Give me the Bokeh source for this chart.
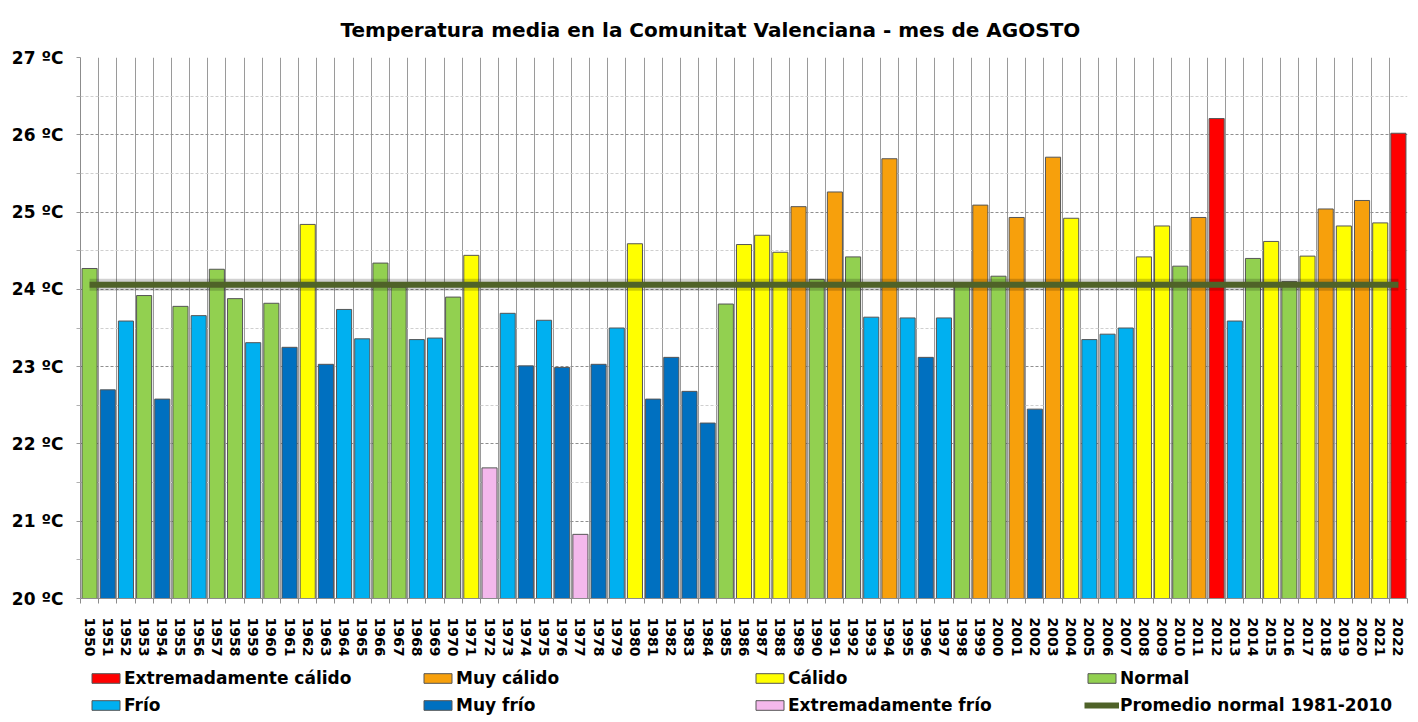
import math
from bokeh.plotting import figure
from bokeh.layouts import column
from bokeh.models import (ColumnDataSource, FixedTicker, PrintfTickFormatter,
                          Legend, LegendItem, Range1d)
from bokeh.embed import file_html
from bokeh.resources import INLINE

# ---------------- data ----------------
title_text = "Temperatura media en la Comunitat Valenciana - mes de AGOSTO"
years = list(range(1950, 2023))
temps = [
    24.27, 22.70, 23.59, 23.92, 22.58, 23.78, 23.66, 24.26, 23.88, 23.31,   # 1950-1959
    23.82, 23.25, 24.84, 23.03, 23.74, 23.36, 24.34, 24.03, 23.35, 23.37,   # 1960-1969
    23.90, 24.44, 21.69, 23.69, 23.01, 23.60, 22.99, 20.83, 23.03, 23.50,   # 1970-1979
    24.59, 22.58, 23.12, 22.68, 22.27, 23.81, 24.58, 24.70, 24.48, 25.07,   # 1980-1989
    24.13, 25.26, 24.42, 23.64, 25.69, 23.63, 23.12, 23.63, 24.05, 25.09,   # 1990-1999
    24.17, 24.93, 22.45, 25.71, 24.92, 23.35, 23.42, 23.50, 24.42, 24.82,   # 2000-2009
    24.30, 24.93, 26.21, 23.59, 24.40, 24.62, 24.10, 24.43, 25.04, 24.82,   # 2010-2019
    25.15, 24.86, 26.02,                                                   # 2020-2022
]
classes = [
    "N", "MF", "F", "N", "MF", "N", "F", "N", "N", "F",
    "N", "MF", "C", "MF", "F", "F", "N", "N", "F", "F",
    "N", "C", "EF", "F", "MF", "F", "MF", "EF", "MF", "F",
    "C", "MF", "MF", "MF", "MF", "N", "C", "C", "C", "MC",
    "N", "MC", "N", "F", "MC", "F", "MF", "F", "N", "MC",
    "N", "MC", "MF", "MC", "C", "F", "F", "F", "C", "C",
    "N", "MC", "EC", "F", "N", "C", "N", "C", "MC", "C",
    "MC", "C", "EC",
]
class_codes = ["EC", "MC", "C", "N", "F", "MF", "EF"]
class_names = ["Extremadamente cálido", "Muy cálido", "Cálido", "Normal",
               "Frío", "Muy frío", "Extremadamente frío"]
class_colors = ["#FF0000", "#F7A00C", "#FFFF00", "#92D050",
                "#00B0F0", "#0070C0", "#F4B8EC"]
normal_label = "Promedio normal 1981-2010"
normal_value = 24.06
y_ticks = [20, 21, 22, 23, 24, 25, 26, 27]

FONT = "DejaVu Sans"
BAR_LINE = "#555555"
MEAN_COLOR = "#4F6228"
NAN = float("nan")

# ---------------- main chart ----------------
p = figure(width=1418, height=660, output_backend="svg", toolbar_location=None,
           x_range=Range1d(years[0] - 0.5, years[-1] + 0.5),
           y_range=Range1d(y_ticks[0], y_ticks[-1]),
           min_border_left=80, min_border_right=11, min_border_top=57,
           min_border_bottom=62)
p.outline_line_color = None
p.background_fill_color = "white"
p.border_fill_color = "white"

p.title.text = title_text
p.title.text_font = FONT
p.title.text_font_style = "bold"
p.title.text_font_size = "20px"
p.title.text_color = "black"
p.title.align = "left"
p.title.offset = 260
p.title.standoff = 31

# x axis
boundaries = [y - 0.5 for y in years] + [years[-1] + 0.5]
p.xaxis.ticker = FixedTicker(ticks=years, minor_ticks=boundaries)
p.xaxis.major_label_orientation = -math.pi / 2
p.xaxis.major_label_text_font = FONT
p.xaxis.major_label_text_font_style = "bold"
p.xaxis.major_label_text_font_size = "14px"
p.xaxis.major_label_text_color = "black"
p.xaxis.major_label_standoff = 14
p.xaxis.major_tick_out = 0
p.xaxis.major_tick_in = 0
p.xaxis.minor_tick_out = 5
p.xaxis.minor_tick_in = 0
p.xaxis.minor_tick_line_color = "#8c8c8c"
p.xaxis.axis_line_color = "#8c8c8c"

p.xgrid.ticker = FixedTicker(ticks=boundaries)
p.xgrid.grid_line_color = "#9a9a9a"
p.xgrid.grid_line_width = 1

# y axis
half_ticks = [t + 0.5 for t in y_ticks[:-1]]
p.yaxis.ticker = FixedTicker(ticks=y_ticks, minor_ticks=half_ticks)
p.yaxis.formatter = PrintfTickFormatter(format="%d ºC")
p.yaxis.major_label_text_font = FONT
p.yaxis.major_label_text_font_style = "bold"
p.yaxis.major_label_text_font_size = "17px"
p.yaxis.major_label_text_color = "black"
p.yaxis.major_label_standoff = 13
p.yaxis.major_tick_out = 4
p.yaxis.major_tick_in = 0
p.yaxis.minor_tick_out = 4
p.yaxis.minor_tick_in = 0
p.yaxis.major_tick_line_color = "#9a9a9a"
p.yaxis.minor_tick_line_color = "#b0b0b0"
p.yaxis.axis_line_color = "#8c8c8c"

p.ygrid.grid_line_color = "#8f8f8f"
p.ygrid.grid_line_dash = "3 2"
p.ygrid.grid_line_width = 1
p.ygrid.minor_grid_line_color = "#cfcfcf"
p.ygrid.minor_grid_line_dash = "3 2"

# bars
for code, name, color in zip(class_codes, class_names, class_colors):
    xs = [y for y, c in zip(years, classes) if c == code]
    ts = [t for t, c in zip(temps, classes) if c == code]
    src = ColumnDataSource(data=dict(x=xs, top=ts))
    p.vbar(x="x", top="top", bottom=y_ticks[0], width=0.83, source=src,
           fill_color=color, line_color=BAR_LINE, line_width=1)

# normal mean line with soft shadow
p.line(x=[years[0], years[-1]], y=[normal_value, normal_value],
       line_color="#000000", line_alpha=0.18, line_width=12)
p.line(x=[years[0], years[-1]], y=[normal_value, normal_value],
       line_color=MEAN_COLOR, line_width=6)

# ---------------- legend strip ----------------
lg = figure(width=1418, height=62, output_backend="svg", toolbar_location=None,
            x_axis_type=None, y_axis_type=None, min_border=0,
            x_range=Range1d(0, 1), y_range=Range1d(0, 1), frame_align=False)
lg.outline_line_color = None
lg.background_fill_color = "white"
lg.border_fill_color = "white"

items = []
for name, color in zip(class_names, class_colors):
    r = lg.vbar(x=[NAN], top=[NAN], width=0.5, fill_color=color,
                line_color=BAR_LINE, line_width=1)
    items.append(LegendItem(label=name, renderers=[r]))
rl = lg.line(x=[NAN, NAN], y=[NAN, NAN], line_color=MEAN_COLOR, line_width=6)
items.append(LegendItem(label=normal_label, renderers=[rl]))

legend = Legend(items=items, orientation="horizontal", ncols=4,
                location=(88, 7), glyph_width=35, glyph_height=12,
                label_standoff=1, label_width=289, label_height=20, spacing=7,
                padding=0, margin=0, border_line_color=None,
                background_fill_alpha=0,
                label_text_font=FONT, label_text_font_style="bold",
                label_text_font_size="17px", label_text_color="black")
lg.add_layout(legend, "center")

layout = column(p, lg, spacing=0)
open("out.html", "w").write(file_html(layout, INLINE))
